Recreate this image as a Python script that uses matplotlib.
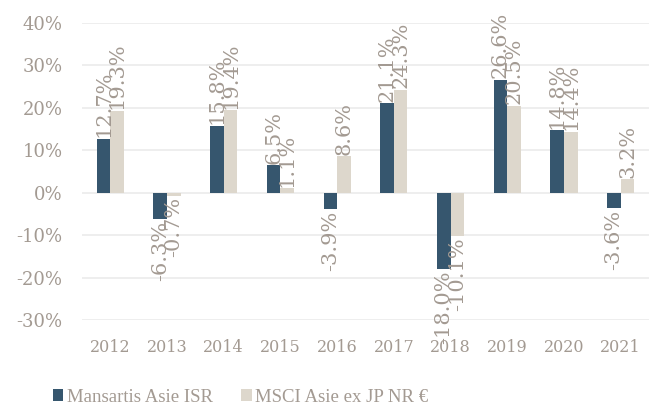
import numpy as np
import matplotlib
matplotlib.use("Agg")
import matplotlib.pyplot as plt

years = ["2012", "2013", "2014", "2015", "2016", "2017", "2018", "2019", "2020", "2021"]
mansartis = [12.7, -6.3, 15.8, 6.5, -3.9, 21.1, -18.0, 26.6, 14.8, -3.6]
msci = [19.3, -0.7, 19.4, 1.1, 8.6, 24.3, -10.1, 20.5, 14.4, 3.2]
series_names = ["Mansartis Asie ISR", "MSCI Asie ex JP NR €"]

DARK = "#36566e"
LIGHT = "#ddd7cc"
TXT = "#a39a92"
GRID = "#ebebeb"

plt.rcParams["font.family"] = ["DejaVu Serif"]

fig = plt.figure(figsize=(6.52, 4.09), dpi=100)
ax = fig.add_axes([82 / 652, 1 - 320 / 409, 567 / 652, 297 / 409])

x = np.arange(len(years))
w = 0.24
b1 = ax.bar(x - w / 2, mansartis, w, color=DARK, zorder=3)
b2 = ax.bar(x + w / 2, msci, w, color=LIGHT, zorder=3)

for bars, vals in ((b1, mansartis), (b2, msci)):
    for rect, v in zip(bars, vals):
        cx = rect.get_x() + rect.get_width() / 2
        ax.annotate(f"{v:.1f}%", (cx, v), xytext=(0, 1 if v >= 0 else -1),
                    textcoords="offset points", rotation=90, ha="center",
                    va="bottom" if v >= 0 else "top", color=TXT, fontsize=15,
                    zorder=4, annotation_clip=False)

ax.set_xlim(-0.5, len(years) - 0.5)
ax.set_ylim(-30, 40)
ax.set_yticks(range(-30, 41, 10))
ax.set_yticklabels([f"{t}%" for t in range(-30, 41, 10)], fontsize=13)
ax.set_xticks(x)
ax.set_xticklabels(years, fontsize=11.5)
ax.yaxis.grid(True, color=GRID, linewidth=1.2, zorder=0)
ax.tick_params(axis="both", length=0, colors=TXT)
ax.tick_params(axis="y", pad=14)
ax.tick_params(axis="x", pad=14)
for s in ax.spines.values():
    s.set_visible(False)

leg = fig.legend([b1, b2], series_names, loc="lower left", bbox_to_anchor=(53 / 652, 3 / 409),
                 ncol=2, frameon=False, borderpad=0, borderaxespad=0,
                 handlelength=0.55, handleheight=0.6, handletextpad=0.2, columnspacing=1.5,
                 prop={"family": "Liberation Serif", "size": 13.5})
for t in leg.get_texts():
    t.set_color(TXT)

fig.savefig("out.png", dpi=100)
